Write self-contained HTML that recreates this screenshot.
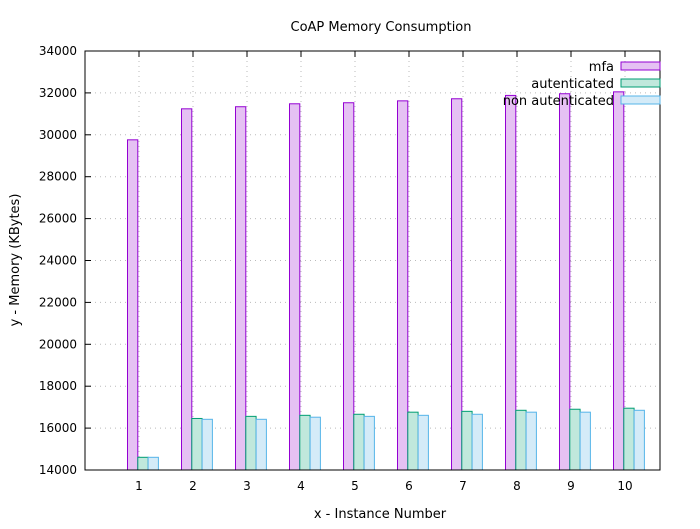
<!DOCTYPE html>
<html><head><meta charset="utf-8"><style>
body{margin:0;background:#fff}
svg text{font-family:"DejaVu Sans","Liberation Sans",sans-serif;font-size:13px;fill:#000}
svg text.tk{font-size:12px}
</style></head><body>
<svg id="c" width="700" height="524" xmlns="http://www.w3.org/2000/svg"></svg>
<script>
const categories=[1,2,3,4,5,6,7,8,9,10];
const mfa=[29760,31240,31340,31480,31530,31620,31720,31880,31960,32050];
const autenticated=[14606,16460,16560,16610,16660,16760,16800,16850,16900,16950];
const nonAutenticated=[14606,16420,16420,16520,16560,16610,16660,16760,16760,16850];
const yTicks=[14000,16000,18000,20000,22000,24000,26000,28000,30000,32000,34000];
const seriesNames=["mfa","autenticated","non autenticated"];
const svg=document.getElementById('c');const NS='http://www.w3.org/2000/svg';
const L=85,R=660,T=51,B=470;
const y=v=>B-(v-14000)/20000*(B-T);
const x=c=>139+(c-1)*54;
function mk(t,a,p){const e=document.createElementNS(NS,t);for(const k in a)e.setAttribute(k,a[k]);(p||svg).appendChild(e);return e;}
yTicks.forEach(v=>{if(v>14000&&v<34000){const g=mk('line',{x1:L,x2:R,y1:y(v),y2:y(v),stroke:'#bbb','stroke-dasharray':'1,4'});

}
const tk=mk('line',{x1:L,x2:L+6,y1:y(v),y2:y(v),stroke:'#000'});


const t=mk('text',{x:L-8,y:y(v)+4,'text-anchor':'end',class:'tk'});t.textContent=v;

});
categories.forEach(c=>{const g=mk('line',{x1:x(c),x2:x(c),y1:T,y2:B,stroke:'#bbb','stroke-dasharray':'1,4'});


const tk=mk('line',{x1:x(c),x2:x(c),y1:B,y2:B-6,stroke:'#000'});


const tk2=mk('line',{x1:x(c),x2:x(c),y1:T,y2:T+6,stroke:'#000'});


const t=mk('text',{x:x(c),y:B+20,'text-anchor':'middle',class:'tk'});t.textContent=c;

});
const fills=['#e5c1f3','#c0e8dc','#d4ebf8'],strokes=['#9400d3','#009e73','#56b4e9'];
const data=[mfa,autenticated,nonAutenticated];
data.forEach((s,si)=>s.forEach((v,i)=>{const bx=x(categories[i])-11.5+si*10.3;
const r=mk('rect',{x:bx,y:y(v),width:10.3,height:B-y(v),fill:fills[si],stroke:strokes[si],'stroke-width':1});

}));
const frame=mk('rect',{x:L,y:T,width:R-L,height:B-T,fill:'none',stroke:'#000'});


seriesNames.forEach((n,i)=>{const cy=66+i*17;
const t=mk('text',{x:614,y:cy+5,'text-anchor':'end'});t.textContent=n;


const r=mk('rect',{x:621,y:cy-4,width:39,height:8,fill:fills[i],stroke:strokes[i]});

});
const ti=mk('text',{x:381,y:31,'text-anchor':'middle'});ti.textContent='CoAP Memory Consumption';


const xl=mk('text',{x:380,y:518,'text-anchor':'middle'});xl.textContent='x - Instance Number';


const yl=mk('text',{x:0,y:0,'text-anchor':'middle',transform:'translate(19,260) rotate(-90)'});yl.textContent='y - Memory (KBytes)';


</script>
</body></html>
